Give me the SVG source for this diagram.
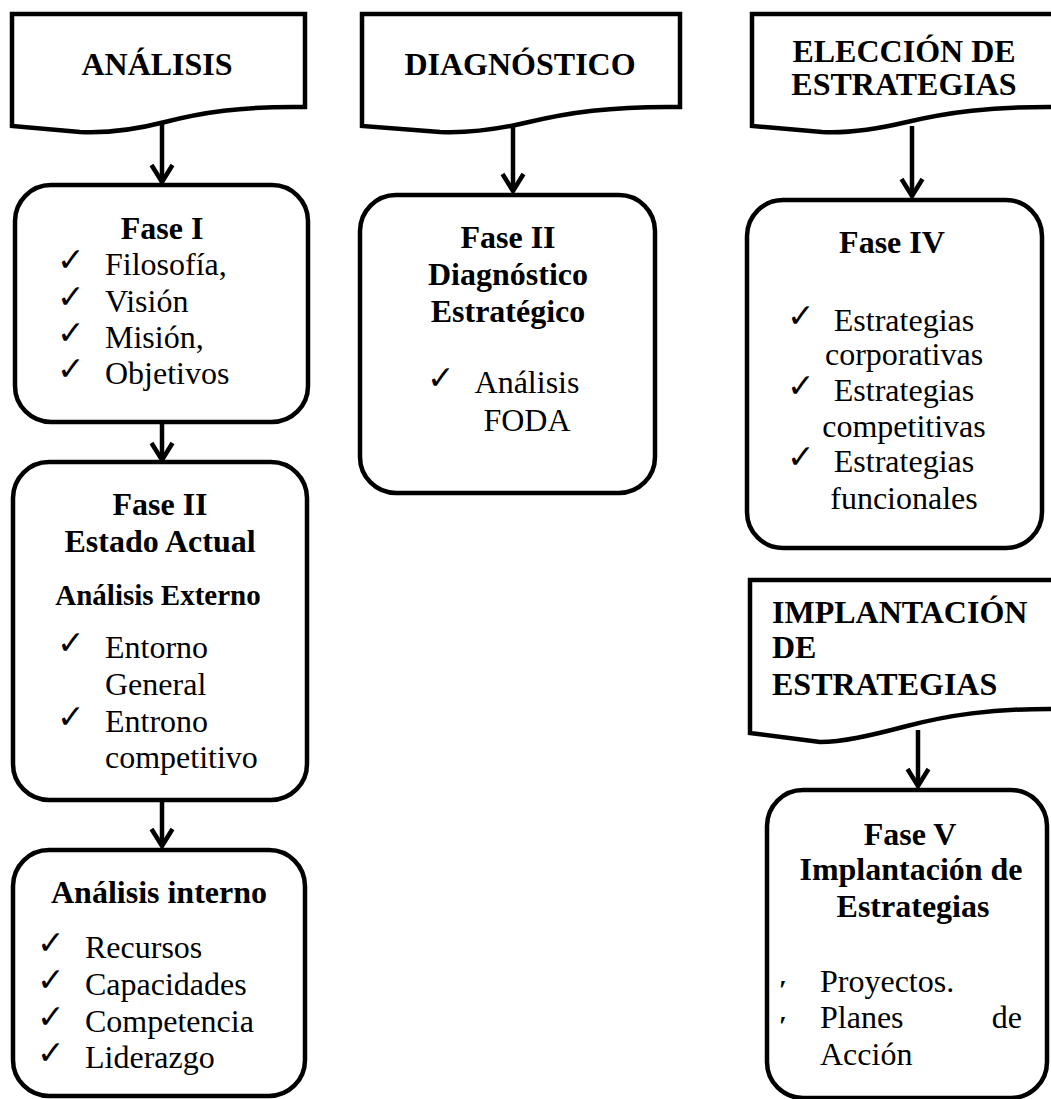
<svg xmlns="http://www.w3.org/2000/svg" width="1051" height="1099" viewBox="0 0 1051 1099">
  <style>
    .shape { fill: #fff; stroke: #000; stroke-width: 4.5; stroke-linejoin: miter; }
    .conn { fill: none; stroke: #000; stroke-width: 4.5; }
    .t { font-family: "Liberation Serif", "Times New Roman", serif; font-size: 32px; fill: #000; }
    .b { font-weight: bold; }
    .m { text-anchor: middle; }
    .e { text-anchor: end; }
    .ck { font-family: "DejaVu Sans", sans-serif; font-size: 33px; fill: #000; }
    .tick { font-family: "Liberation Serif", serif; font-size: 28px; font-weight: bold; fill: #000; }
  </style>
  <defs>
    <marker id="chev" viewBox="-20 -14 26 28" refX="0" refY="0" markerWidth="26" markerHeight="28" markerUnits="userSpaceOnUse" orient="auto">
      <path d="M-17,-10.5 L0,0 L-17,10.5" fill="none" stroke="#000" stroke-width="4.5"/>
    </marker>
  </defs>

  <rect width="1051" height="1099" fill="#fff"/>

  <!-- connectors -->
  <g id="connectors">
    <path class="conn" d="M162,124 V182" marker-end="url(#chev)"/>
    <path class="conn" d="M162,422 V460" marker-end="url(#chev)"/>
    <path class="conn" d="M162,800 V846" marker-end="url(#chev)"/>
    <path class="conn" d="M513,126 V191" marker-end="url(#chev)"/>
    <path class="conn" d="M912,126 V196" marker-end="url(#chev)"/>
    <path class="conn" d="M918,730 V786" marker-end="url(#chev)"/>
  </g>

  <!-- phase banners (document shapes) -->
  <g id="banner-analisis">
    <path class="shape" d="M12,14 H305 V107 C240,106 200,113 165,122 C130,131 100,133 80,132 L12,126 Z"/>
    <text class="t b m" x="157" y="75">ANÁLISIS</text>
  </g>
  <g id="banner-diagnostico">
    <path class="shape" d="M362,14 H680 V107 C610,106 567,113 529,122 C491,131 462,133 440,132 L362,126 Z"/>
    <text class="t b m" x="520" y="75">DIAGNÓSTICO</text>
  </g>
  <g id="banner-eleccion">
    <path class="shape" d="M752,14 H1062 V107 C990,106 945,113 907,122 C869,131 842,133 822,132 L752,126 Z"/>
    <text class="t b m" x="904" y="62">ELECCIÓN DE</text>
    <text class="t b m" x="904" y="95">ESTRATEGIAS</text>
  </g>
  <g id="banner-implantacion">
    <path class="shape" d="M750,580 H1062 V709 C990,708 945,716 907,726 C869,736 842,742 820,742 L750,733 Z"/>
    <text class="t b" x="772" y="623">IMPLANTACIÓN</text>
    <text class="t b" x="772" y="658">DE</text>
    <text class="t b" x="772" y="695">ESTRATEGIAS</text>
  </g>

  <!-- phase boxes -->
  <g id="fase-1">
    <rect class="shape" x="15" y="185" width="293" height="237" rx="36"/>
    <text class="t b m" x="162" y="239">Fase I</text>
    <text class="ck" x="57" y="271">✓</text><text class="t" x="105" y="275">Filosofía,</text>
    <text class="ck" x="57" y="308">✓</text><text class="t" x="105" y="312">Visión</text>
    <text class="ck" x="57" y="344">✓</text><text class="t" x="105" y="348">Misión,</text>
    <text class="ck" x="57" y="380">✓</text><text class="t" x="105" y="384">Objetivos</text>
  </g>

  <g id="fase-2-estado">
    <rect class="shape" x="13" y="462" width="294" height="338" rx="36"/>
    <text class="t b m" x="160" y="515">Fase II</text>
    <text class="t b m" x="160" y="552">Estado Actual</text>
    <text class="t b m" x="158" y="605" style="font-size:29px">Análisis Externo</text>
    <text class="ck" x="57" y="654">✓</text><text class="t" x="105" y="658">Entorno</text>
    <text class="t" x="105" y="695">General</text>
    <text class="ck" x="57" y="728">✓</text><text class="t" x="105" y="732">Entrono</text>
    <text class="t" x="105" y="768">competitivo</text>
  </g>

  <g id="analisis-interno">
    <rect class="shape" x="13" y="850" width="292" height="246" rx="36"/>
    <text class="t b m" x="159" y="903">Análisis interno</text>
    <text class="ck" x="37" y="954">✓</text><text class="t" x="85" y="958">Recursos</text>
    <text class="ck" x="37" y="991">✓</text><text class="t" x="85" y="995">Capacidades</text>
    <text class="ck" x="37" y="1028">✓</text><text class="t" x="85" y="1032">Competencia</text>
    <text class="ck" x="37" y="1064">✓</text><text class="t" x="85" y="1068">Liderazgo</text>
  </g>

  <g id="fase-2-diagnostico">
    <rect class="shape" x="360" y="195" width="295" height="298" rx="36"/>
    <text class="t b m" x="508" y="248">Fase II</text>
    <text class="t b m" x="508" y="285">Diagnóstico</text>
    <text class="t b m" x="508" y="322">Estratégico</text>
    <text class="ck" x="427" y="389">✓</text>
    <text class="t m" x="527" y="393">Análisis</text>
    <text class="t m" x="527" y="431">FODA</text>
  </g>

  <g id="fase-4">
    <rect class="shape" x="747" y="200" width="295" height="348" rx="36"/>
    <text class="t b m" x="892" y="253">Fase IV</text>
    <text class="ck" x="787" y="327">✓</text><text class="t m" x="904" y="331">Estrategias</text>
    <text class="t m" x="904" y="365">corporativas</text>
    <text class="ck" x="787" y="397">✓</text><text class="t m" x="904" y="401">Estrategias</text>
    <text class="t m" x="904" y="437">competitivas</text>
    <text class="ck" x="787" y="468">✓</text><text class="t m" x="904" y="472">Estrategias</text>
    <text class="t m" x="904" y="509">funcionales</text>
  </g>

  <g id="fase-5">
    <rect class="shape" x="767" y="790" width="280" height="308" rx="36"/>
    <text class="t b m" x="910" y="845">Fase V</text>
    <text class="t b m" x="911" y="880">Implantación de</text>
    <text class="t b m" x="913" y="917">Estrategias</text>
    <text class="tick" x="779" y="999">′</text><text class="t" x="820" y="992">Proyectos.</text>
    <text class="tick" x="779" y="1035">′</text><text class="t" x="820" y="1028">Planes</text>
    <text class="t e" x="1022" y="1028">de</text>
    <text class="t" x="820" y="1065">Acción</text>
  </g>
</svg>
